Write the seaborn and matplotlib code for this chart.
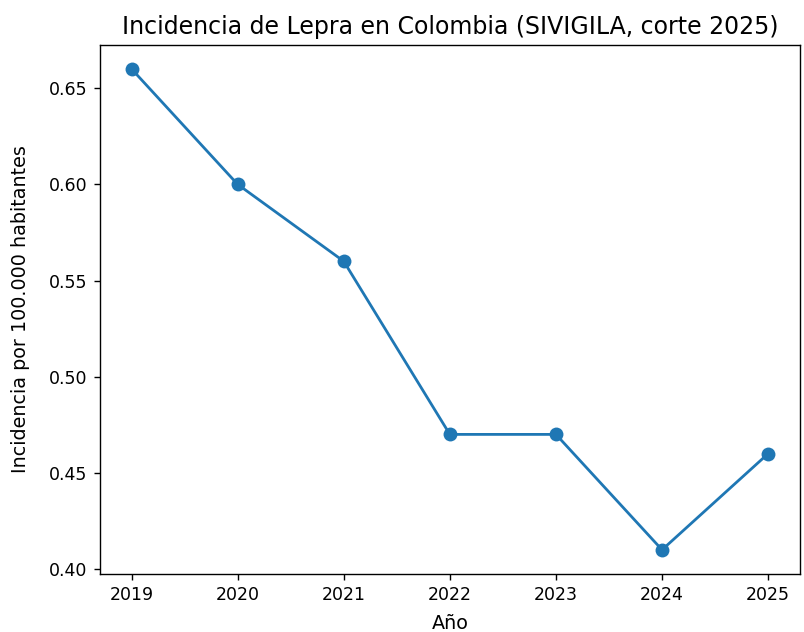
import numpy as np
import pandas as pd
import seaborn as sns
import matplotlib
matplotlib.use("Agg")
from matplotlib import pyplot as plt

# datos
years = [2019, 2020, 2021, 2022, 2023, 2024, 2025]
incidence = [0.66, 0.60, 0.56, 0.47, 0.47, 0.41, 0.46]

df = pd.DataFrame({"Año": years, "Incidencia": incidence})

fig, ax = plt.subplots(figsize=(804 / 125, 632 / 125), dpi=125)
sns.lineplot(data=df, x="Año", y="Incidencia", marker="o", markersize=8,
             markeredgewidth=0, color="#1f77b4", linewidth=1.6, ax=ax)

ax.set_xticks(years)
ax.set_yticks([0.40, 0.45, 0.50, 0.55, 0.60, 0.65])
ax.set_xlabel("Año", fontsize=11, labelpad=6)
ax.set_ylabel("Incidencia por 100.000 habitantes", fontsize=11, labelpad=11)
ax.set_title("Incidencia de Lepra en Colombia (SIVIGILA, corte 2025)", fontsize=13.6)

fig.subplots_adjust(left=0.124, right=0.995, top=0.929, bottom=0.092)
fig.savefig("out.png", dpi=125)
